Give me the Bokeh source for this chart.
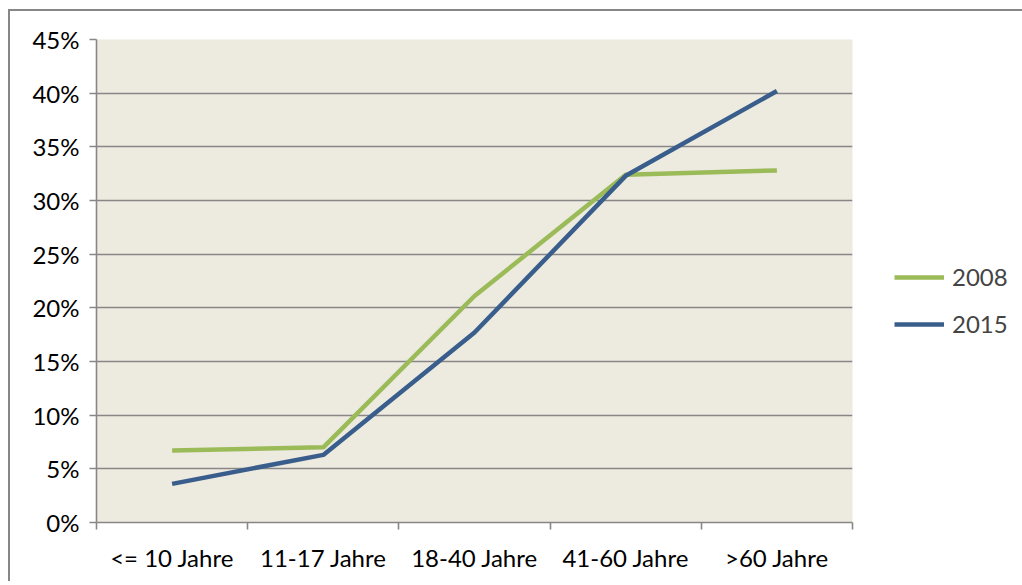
from bokeh.plotting import figure
from bokeh.models import FixedTicker, NumeralTickFormatter, Legend, LegendItem, Range1d
from bokeh.embed import file_html
from bokeh.resources import INLINE

categories = ["<= 10 Jahre", "11-17 Jahre", "18-40 Jahre", "41-60 Jahre", ">60 Jahre"]
values_2008 = [0.067, 0.070, 0.211, 0.324, 0.328]
values_2015 = [0.036, 0.063, 0.177, 0.323, 0.402]
y_ticks = [0.0, 0.05, 0.10, 0.15, 0.20, 0.25, 0.30, 0.35, 0.40, 0.45]

FONT = "Lato"
GRAY = "#878787"

xs = [i + 0.5 for i in range(len(categories))]

p = figure(frame_width=756, frame_height=483, output_backend="svg", toolbar_location=None,
           x_range=Range1d(0, len(categories)), y_range=Range1d(0, 0.45),
           min_border_left=86, min_border_top=28, min_border_right=169, min_border_bottom=59)
p.styles = {"border-left": f"2px solid {GRAY}", "border-top": f"2px solid {GRAY}",
            "margin-left": "8px", "margin-top": "9px"}
p.background_fill_color = "#EDEAE0"
p.border_fill_color = "white"
p.outline_line_color = None

p.xgrid.grid_line_color = None
p.ygrid.grid_line_color = GRAY
p.ygrid.grid_line_width = 1.6
p.ygrid.ticker = FixedTicker(ticks=y_ticks)

p.yaxis.ticker = FixedTicker(ticks=y_ticks)
p.yaxis.formatter = NumeralTickFormatter(format="0%")
p.yaxis.axis_line_color = GRAY
p.yaxis.axis_line_width = 1.6
p.yaxis.major_tick_line_color = GRAY
p.yaxis.major_tick_line_width = 1.6
p.yaxis.major_tick_out = 7
p.yaxis.major_tick_in = 0
p.yaxis.minor_tick_line_color = None
p.yaxis.major_label_standoff = 10

p.xaxis.ticker = FixedTicker(ticks=xs, minor_ticks=list(range(len(categories) + 1)))
p.xaxis.major_label_overrides = {x: c for x, c in zip(xs, categories)}
p.xaxis.axis_line_color = GRAY
p.xaxis.axis_line_width = 1.6
p.xaxis.major_tick_line_color = None
p.xaxis.minor_tick_line_color = GRAY
p.xaxis.minor_tick_line_width = 1.6
p.xaxis.minor_tick_out = 7
p.xaxis.minor_tick_in = 0
p.xaxis.major_label_standoff = 13

for ax in (p.xaxis, p.yaxis):
    ax.major_label_text_font = FONT
    ax.major_label_text_font_size = "24px"
    ax.major_label_text_color = "black"

r08 = p.line(xs, values_2008, line_color="#9BBB59", line_width=4.5)
r15 = p.line(xs, values_2015, line_color="#3A5E8C", line_width=4.5)

legend = Legend(items=[LegendItem(label="2008", renderers=[r08]),
                       LegendItem(label="2015", renderers=[r15])],
                location=(42, 184), orientation="vertical",
                glyph_width=50, glyph_height=24, label_height=24, spacing=18,
                label_standoff=8, padding=0, margin=0,
                border_line_color=None, background_fill_alpha=0,
                label_text_font=FONT, label_text_font_size="24px")
p.add_layout(legend, "right")

open("out.html", "w").write(file_html(p, INLINE))
